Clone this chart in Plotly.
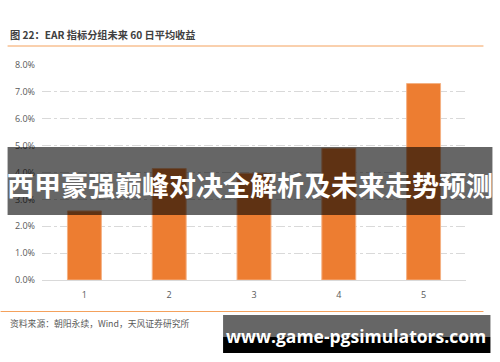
import plotly.graph_objects as go

categories = ["1", "2", "3", "4", "5"]
values = [2.57, 4.15, 3.97, 4.90, 7.31]
y_ticks = [0, 1, 2, 3, 4, 5, 6, 7, 8]
title_text = "图 22：EAR 指标分组未来 60 日平均收益"
source_text = "资料来源：朝阳永续，Wind，天风证券研究所"
banner_text = "西甲豪强巅峰对决全解析及未来走势预测"
watermark_text = "www.game-pgsimulators.com"

W, H = 500, 362
L, R, T, B = 41.5, 466.5, 65, 280

def px(x):
    return (x - L) / (R - L)

def py(y):
    return (B - y) / (B - T)

CJK = "Noto Sans CJK SC"

fig = go.Figure()
fig.add_trace(go.Bar(
    x=categories, y=values, width=0.4,
    marker=dict(color="#ED7D31", line=dict(color="#F4B183", width=1)),
))

fig.update_layout(
    width=W, height=H,
    margin=dict(l=L, r=W - R, t=T, b=H - B, pad=0),
    paper_bgcolor="white", plot_bgcolor="white",
    showlegend=False,
    font=dict(family=CJK, size=9, color="#595959"),
    xaxis=dict(
        type="category", showgrid=False, zeroline=False,
        showline=True, linecolor="#D9D9D9", linewidth=1,
        ticks="", tickfont=dict(size=9, color="#595959", family="Open Sans"),
        ticklabelstandoff=6,
    ),
    yaxis=dict(
        range=[0, 8], tickvals=y_ticks,
        ticktext=[f"{v:.1f}%" for v in y_ticks],
        showgrid=True, gridcolor="#D9D9D9", griddash="dashdot", gridwidth=1,
        zeroline=False, showline=False, ticks="",
        tickfont=dict(size=9, color="#595959", family="Open Sans"),
        ticklabelstandoff=6,
    ),
    bargap=0.6,
)

shapes = [
    dict(type="line", xref="paper", yref="paper", x0=px(7), x1=px(484), y0=py(46), y1=py(46),
         line=dict(color="#F4A15C", width=1)),
    dict(type="line", xref="paper", yref="paper", x0=px(0), x1=px(484), y0=py(311.5), y1=py(311.5),
         line=dict(color="#F4A15C", width=1)),
    dict(type="rect", xref="paper", yref="paper", x0=px(7), x1=px(493), y0=py(147), y1=py(215),
         fillcolor="rgba(0,0,0,0.6)", line=dict(width=0), layer="above"),
    dict(type="rect", xref="paper", yref="paper", x0=px(223), x1=px(491), y0=py(315), y1=py(337),
         fillcolor="#666666", line=dict(width=0), layer="above"),
    dict(type="rect", xref="paper", yref="paper", x0=px(223), x1=px(491), y0=py(337), y1=py(353),
         fillcolor="#000000", line=dict(width=0), layer="above"),
]
fig.update_layout(shapes=shapes)

annotations = [
    dict(text=title_text, xref="paper", yref="paper", x=px(7), y=py(35),
         xanchor="left", yanchor="middle", showarrow=False,
         font=dict(family=CJK, size=10.2, color="#404040", weight="bold")),
    dict(text=source_text, xref="paper", yref="paper", x=px(7), y=py(323),
         xanchor="left", yanchor="middle", showarrow=False,
         font=dict(family=CJK, size=8.8, color="#595959")),
    dict(text=banner_text, xref="paper", yref="paper", x=px(250), y=py(184),
         xanchor="center", yanchor="middle", showarrow=False,
         font=dict(family=CJK, size=27, color="white", weight="bold")),
    dict(text=watermark_text, xref="paper", yref="paper", x=px(356), y=py(336),
         xanchor="center", yanchor="middle", showarrow=False,
         font=dict(family="Open Sans", size=17.5, color="white", weight="bold")),
]
fig.update_layout(annotations=annotations)

fig.write_html("out.html")
